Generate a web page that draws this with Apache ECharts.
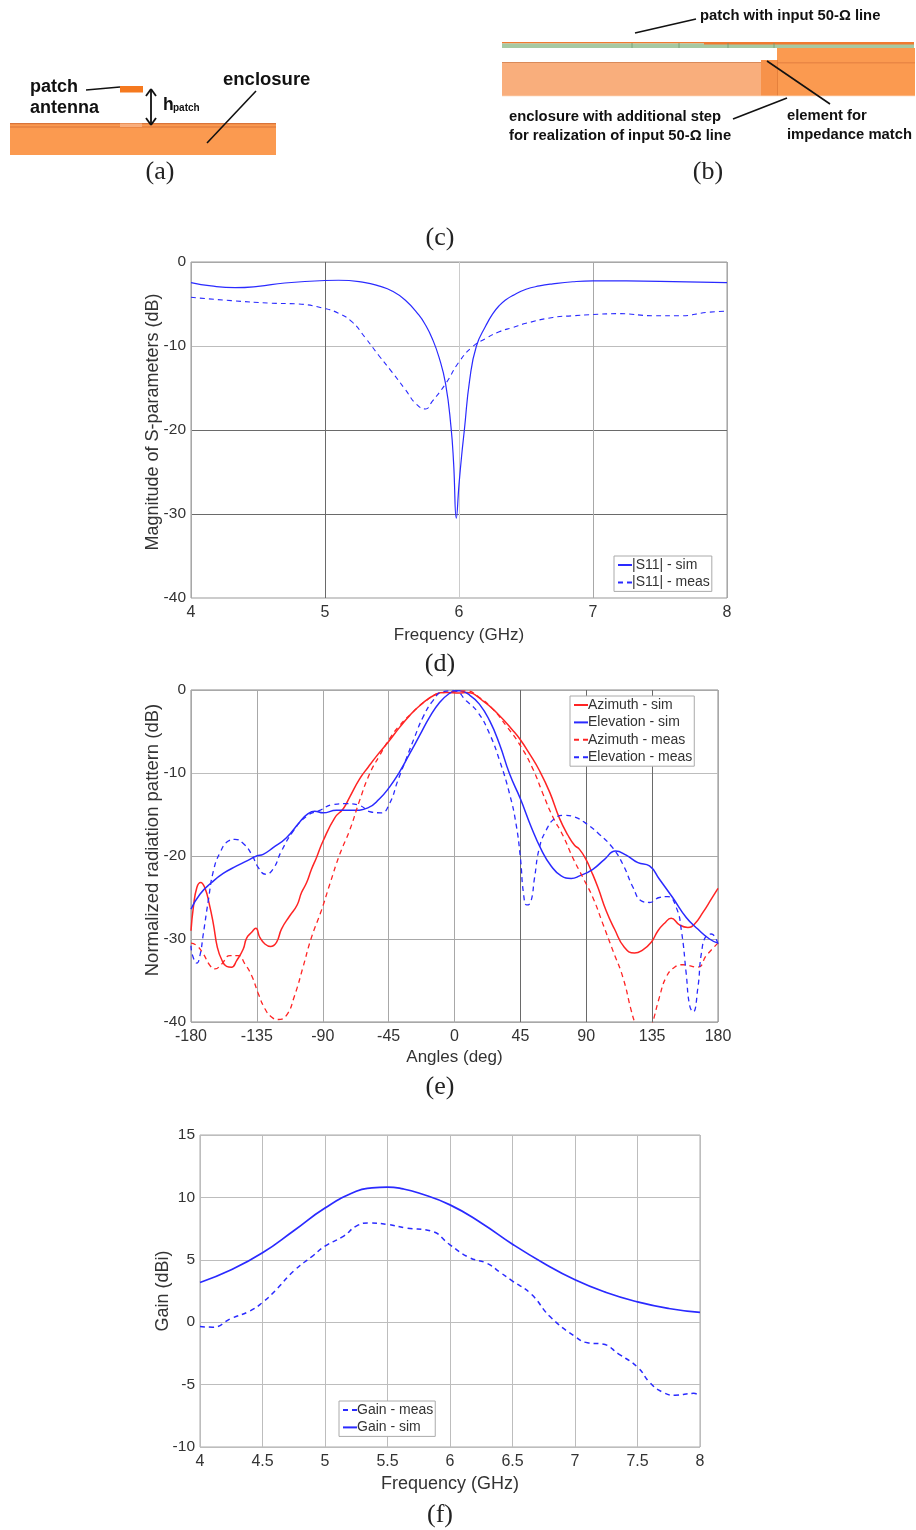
<!DOCTYPE html>
<html><head><meta charset="utf-8">
<style>html,body{margin:0;padding:0;background:#fff}#c{width:916px;height:1530px}</style>
<script src="https://cdn.jsdelivr.net/npm/echarts@6/dist/echarts.min.js"></script>
</head><body><div id="c"></div>
<script>
const s11Sim=[[4,-2.45],[4.15,-2.85],[4.33,-3.05],[4.5,-2.9],[4.7,-2.5],[5,-2.2],[5.1,-2.17],[5.3,-2.45],[5.4,-2.85],[5.5,-3.45],[5.6,-4.55],[5.7,-6.3],[5.75,-7.5],[5.8,-9.1],[5.85,-11.3],[5.9,-14.5],[5.94,-19.6],[5.96,-24],[5.98,-30.5],[6,-26.5],[6.02,-23],[6.04,-20],[6.08,-14],[6.13,-10],[6.2,-7.6],[6.25,-6.2],[6.3,-5.2],[6.35,-4.5],[6.4,-4],[6.5,-3.25],[6.6,-2.85],[6.7,-2.6],[6.85,-2.35],[7,-2.25],[7.5,-2.3],[8,-2.45]];
const s11Meas=[[4,-4.2],[4.3,-4.6],[4.6,-4.9],[4.8,-5],[5,-5.55],[5.1,-6.1],[5.2,-7.1],[5.3,-9],[5.4,-11.1],[5.5,-13.1],[5.6,-15.2],[5.68,-16.9],[5.75,-17.5],[5.8,-16.6],[5.9,-14.5],[6,-11.9],[6.1,-10.1],[6.2,-9.1],[6.3,-8.3],[6.4,-7.8],[6.5,-7.3],[6.7,-6.6],[6.85,-6.4],[7,-6.25],[7.2,-6.15],[7.45,-6.4],[7.65,-6.4],[7.85,-6],[8,-5.85]];
const azSim=[[-180,-29],[-178.4,-26.2],[-176,-23.8],[-173.4,-23.2],[-170.4,-23.9],[-167.5,-25.8],[-164.7,-28.2],[-162,-31],[-159,-32.5],[-155.7,-33.3],[-152.3,-33.4],[-148.8,-32.6],[-144.3,-31.2],[-142,-29.9],[-138.6,-29.2],[-135.7,-28.7],[-133,-29.8],[-129.5,-30.6],[-125.7,-30.9],[-121.6,-30.4],[-118.2,-28.8],[-112.5,-27.2],[-107.5,-25.9],[-104.5,-24.4],[-101,-23.2],[-97.7,-21.6],[-94.3,-20.2],[-89.8,-18.2],[-81.8,-15.4],[-76,-14.3],[-71.6,-12.9],[-64.8,-10.7],[-59,-9.3],[-53.4,-8],[-45.4,-6.3],[-37.5,-4.5],[-30.7,-3.1],[-23.8,-1.9],[-13.6,-0.6],[-5.7,-0.3],[3.4,-0.35],[8,-0.3],[19.4,-1.3],[30.8,-3.1],[40,-4.9],[45,-6],[51.3,-7.7],[58,-9.7],[65,-12.3],[71.8,-15.5],[77.5,-17.5],[82,-18.7],[85.4,-19.2],[89.8,-20.4],[93.4,-21.8],[98,-23.8],[103.6,-26.6],[109.3,-28.8],[116,-31],[123,-31.7],[128.7,-31.3],[134.4,-30.4],[139,-29],[143.5,-28.1],[148,-27.5],[153.7,-28.3],[159.4,-28.6],[164,-28.2],[169.7,-26.8],[175.4,-25.2],[180,-23.9]];
const elSim=[[-180,-26.4],[-173.9,-24.6],[-165.9,-23.2],[-158,-22.1],[-148.8,-21.2],[-139.8,-20.4],[-135.2,-20],[-130.7,-19.8],[-123.9,-19],[-114.8,-17.8],[-105.7,-15.9],[-100,-14.9],[-95.5,-14.6],[-89.8,-14.8],[-80.7,-14.5],[-69.4,-14.5],[-59.2,-14.2],[-51.2,-13.1],[-44.4,-11.7],[-37.6,-9.9],[-30.7,-7.7],[-23.9,-5.5],[-17.1,-3.3],[-10.2,-1.5],[-3.4,-0.4],[1,-0.1],[3.4,-0.1],[10.2,-0.6],[17,-1.7],[24,-3.7],[30.7,-6.5],[37.6,-10.1],[45,-13.1],[52.4,-16.5],[59.2,-19.2],[66,-21.2],[72.9,-22.4],[79.7,-22.7],[85.4,-22.4],[94.5,-21.6],[102.5,-20.4],[110,-19.4],[117.3,-19.9],[125.3,-20.8],[133.2,-21.2],[140,-22.8],[149,-25],[158.3,-27.4],[166.2,-28.8],[174.2,-30],[180,-30.5]];
const azMeas=[[-180,-30.5],[-176,-30.8],[-171.6,-31.8],[-167,-33.2],[-163.6,-33.6],[-159,-33],[-153.4,-32],[-147.7,-32],[-143.2,-33],[-138.6,-34.4],[-134,-36.6],[-129.5,-38.4],[-125,-39.4],[-120.5,-39.7],[-114.8,-39.2],[-109.2,-36.8],[-103.5,-33.4],[-97.7,-29.8],[-91,-26.6],[-85.2,-23.4],[-78.4,-19.8],[-71.6,-16.9],[-64.8,-13.3],[-58,-10.1],[-51.2,-7.9],[-44.4,-5.9],[-37.6,-4.3],[-28.6,-2.7],[-19.5,-1.3],[-10.4,-0.4],[0,-0.2],[8,-0.1],[17,-0.9],[26.2,-2.3],[35.3,-4.3],[45,-6.7],[53.5,-9.5],[60.4,-12.5],[67.2,-15.3],[74,-17.5],[80.8,-20.2],[87.7,-22.6],[94.5,-25],[101.4,-28.2],[108.2,-31.4],[115,-34.6],[120.7,-38.6],[123,-40],[127,-42],[132,-42],[135.5,-40],[140,-37],[144.6,-34.6],[150.3,-33.4],[156,-33.1],[166.3,-33.4],[172,-32],[180,-30.5]];
const elMeas=[[-180,-30.8],[-178.9,-32],[-176,-32.9],[-173.9,-32],[-171.6,-29.4],[-168.2,-25.4],[-164.7,-21.8],[-160.2,-19.6],[-154.5,-18.2],[-150,-18],[-144.3,-18.5],[-138.6,-19.8],[-134,-21.4],[-129,-22.2],[-124,-21.6],[-118.2,-19.4],[-110.2,-17],[-101,-15.2],[-92,-14.5],[-83,-13.8],[-74,-13.7],[-65,-13.9],[-57,-14.7],[-50,-14.8],[-44.4,-13.7],[-38.7,-10.9],[-33,-8.3],[-27.3,-5.7],[-21.6,-3.3],[-14.8,-1.3],[-8,-0.2],[0,-0.1],[8,-1.3],[16,-2.7],[24,-5.3],[30.8,-8.5],[37.6,-12.5],[42,-16.1],[45,-20.2],[47.2,-24.6],[49.4,-25.9],[52,-25.6],[54.7,-22.6],[58,-19],[62.6,-16.9],[68.3,-15.5],[75,-15.1],[82,-15.3],[90,-16.1],[99,-17.4],[108,-19],[115,-21],[122,-23.8],[127.6,-25.4],[133.2,-25.6],[140,-25],[145.8,-24.9],[151.5,-26.2],[155,-29],[158.3,-34.2],[160.6,-38],[163,-38.8],[166.3,-35.8],[168.6,-31.8],[172,-29.6],[175.4,-29.4],[180,-30.6]];
const gainSim=[[4,3.18],[4.25,4.2],[4.5,5.56],[4.75,7.33],[5,9.15],[5.25,10.5],[5.375,10.76],[5.5,10.83],[5.625,10.68],[5.75,10.35],[6,9.4],[6.25,7.95],[6.5,6.25],[6.75,4.73],[7,3.4],[7.25,2.38],[7.5,1.63],[7.75,1.1],[8,0.78]];
const gainMeas=[[4,-0.35],[4.1,-0.4],[4.25,0.3],[4.4,0.9],[4.5,1.58],[4.6,2.5],[4.75,4.1],[4.9,5.3],[5,6.1],[5.15,6.9],[5.25,7.7],[5.35,7.95],[5.5,7.83],[5.65,7.55],[5.85,7.3],[6,6.2],[6.15,5.2],[6.3,4.7],[6.4,4],[6.5,3.3],[6.65,2.25],[6.8,0.45],[7,-1.15],[7.1,-1.65],[7.22,-1.75],[7.35,-2.55],[7.5,-3.6],[7.6,-4.85],[7.7,-5.6],[7.8,-5.85],[7.95,-5.7],[8,-5.9]];

const FF='"Liberation Sans",Arial,sans-serif', TXT='#333', BLUE='#2a2aff', RED='#ff2424';
const chart=echarts.init(document.getElementById('c'),null,{renderer:'canvas'});

function xAx(i,min,max,interval,name,colors,gap,fs){return {gridIndex:i,type:'value',min,max,interval,name,nameLocation:'middle',nameGap:gap,
 nameTextStyle:{fontFamily:FF,fontSize:fs,color:TXT},axisLine:{show:false},axisTick:{show:false},
 axisLabel:{fontFamily:FF,fontSize:16,color:TXT,margin:7,hideOverlap:false,showMinLabel:true,showMaxLabel:true},
 splitLine:{show:true,lineStyle:{color:colors,width:1}}};}
function yAx(i,min,max,interval,name,colors,gap,fs,pad){return {gridIndex:i,type:'value',min,max,interval,name,nameLocation:'middle',nameGap:gap,nameMoveOverlap:false,
 nameTextStyle:{fontFamily:FF,fontSize:fs,color:TXT,padding:[0,0,0,pad]},axisLine:{show:false},axisTick:{show:false},
 axisLabel:{fontFamily:FF,fontSize:15.5,color:TXT,margin:5,hideOverlap:false,showMinLabel:true,showMaxLabel:true},
 splitLine:{show:true,lineStyle:{color:colors,width:1}}};}
function line(name,data,i,color,dashed,w){return {name,type:'line',xAxisIndex:i,yAxisIndex:i,data,showSymbol:false,symbol:'none',smooth:0.5,clip:true,
 lineStyle:{color,width:w,type:dashed?[5,4]:'solid'},itemStyle:{color},animation:false};}
function leg(names,left,top){return {data:names,orient:'vertical',left,top,itemWidth:14,itemHeight:14,itemGap:3.4,padding:[2,2,2,3],backgroundColor:'#fff',borderColor:'#aaa',borderWidth:1,borderRadius:0,
 itemStyle:{opacity:0},
 textStyle:{fontFamily:FF,fontSize:14,color:TXT,padding:[0,0,0,-5]},selectedMode:false,z:20};}

const g=[];
const O1='#fb9a50',O2='#f9ae7c',O3='#f07a30',K='#111';
const rect=(x,y,w,h,fill)=>g.push({type:'rect',shape:{x,y,width:w,height:h},style:{fill},silent:true});
const seg=(x1,y1,x2,y2,w,c)=>g.push({type:'line',shape:{x1,y1,x2,y2},style:{stroke:c||K,lineWidth:w||1.5},silent:true});
const bold=(t,x,y,s)=>g.push({type:'text',style:{text:t,x,y,font:'bold '+s+'px '+FF,fill:K,textVerticalAlign:'middle'},silent:true});
const cap=(t,x,y)=>g.push({type:'text',style:{text:t,x,y,font:'26px "Liberation Serif","Times New Roman",serif',fill:'#222',textAlign:'center',textVerticalAlign:'middle'},silent:true});

// (a) diagram
rect(10,123,266,32,O1); rect(10,123,266,1.3,'#d9743a'); rect(10,126.5,266,1,'#d9743a'); rect(120,123.5,22,3.5,O2);
rect(120,86,23,6.5,'#f5791f'); seg(86,90,120,87,1.3);
seg(151,90,151,124,1.8); seg(146,96,151,89,1.8); seg(156,96,151,89,1.8); seg(146,118,151,125,1.8); seg(156,118,151,125,1.8);
bold('patch',30,87,18); bold('antenna',30,108,18); bold('enclosure',223,80,18.5);
bold('h',163,105,17.5); bold('patch',173,108,10); seg(207,143,256,91,1.6);
cap('(a)',160,172);
// (b) diagram
rect(502,42,412,1.5,O3); rect(502,43.5,412,4.5,'#a6c9a2'); rect(704,43,210,1.6,O3);
[632,679,728,774].forEach(x=>seg(x,43,x,48,0.8,'#6f9a70'));
rect(502,63,260,33,O2); rect(502,62,260,1,'#d98a5a');
rect(777,48,138,48,O1); rect(761,60,16,36,'#f7924a'); rect(777,62.5,138,0.8,'#d9743a'); rect(777,60,0.8,36,'#e07a38');
rect(502,95.5,413,0.8,'#fbc9a5');
seg(635,33,696,19,1.6); seg(733,119,787,98,1.6); seg(767,61,830,104,1.6);
bold('patch with input 50-Ω line',700,16,14.8);
bold('enclosure with additional step',509,117,14.8);
bold('for realization of',509,136,14.8); bold('input 50-Ω line',628,136,14.8);
bold('element for',787,116,14.8); bold('impedance match',787,134.5,14.8);
cap('(b)',708,172); cap('(c)',440,238); cap('(d)',440,664); cap('(e)',440,1087); cap('(f)',440,1515);

const L='#bdbdbd',M='#a8a8a8',D='#6a6a6a';
chart.setOption({animation:false,backgroundColor:'#fff',
 grid:[
  {left:191,top:262,width:536,height:336,show:true,borderColor:'#999',borderWidth:1,backgroundColor:'transparent'},
  {left:191,top:690,width:527,height:332,show:true,borderColor:'#888',borderWidth:1,backgroundColor:'transparent'},
  {left:200,top:1135,width:500,height:312,show:true,borderColor:'#aaa',borderWidth:1,backgroundColor:'transparent'}],
 xAxis:[xAx(0,4,8,1,'Frequency (GHz)',[M,D,'#ccc',M,M],29,17),
        xAx(1,-180,180,45,'Angles (deg)',[M,M,M,M,M,D,D,D,M],27,17),
        xAx(2,4,8,0.5,'Frequency (GHz)',[L],28,18)],
 yAxis:[yAx(0,-40,0,10,'Magnitude of S-parameters (dB)',['#ccc',D,D,L,M],29,18,16),
        yAx(1,-40,0,10,'Normalized radiation pattern (dB)',[M,M,M,L,M],29,18.5,32),
        yAx(2,-10,15,5,'Gain (dBi)',[L],28,18,0)],
 legend:[leg(['|S11| - sim','|S11| - meas'],614,556),
         leg(['Azimuth - sim','Elevation - sim','Azimuth - meas','Elevation - meas'],570,696),
         leg(['Gain - meas','Gain - sim'],339,1401)],
 series:[
  line('|S11| - sim',s11Sim,0,BLUE,false,1.2),
  line('|S11| - meas',s11Meas,0,BLUE,true,1.1),
  line('Azimuth - sim',azSim,1,RED,false,1.5),
  line('Elevation - sim',elSim,1,BLUE,false,1.5),
  line('Azimuth - meas',azMeas,1,RED,true,1.3),
  line('Elevation - meas',elMeas,1,BLUE,true,1.3),
  line('Gain - meas',gainMeas,2,BLUE,true,1.5),
  line('Gain - sim',gainSim,2,BLUE,false,1.7)],
 graphic:{elements:g}
});
</script></body></html>
